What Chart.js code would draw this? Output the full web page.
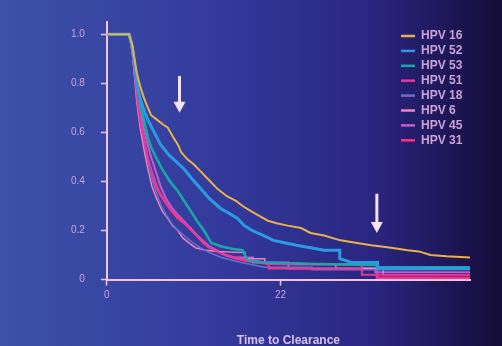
<!DOCTYPE html>
<html>
<head>
<meta charset="utf-8">
<script src="https://cdn.jsdelivr.net/npm/chart.js@4.4.1/dist/chart.umd.min.js"></script>
<style>
  html, body { margin: 0; padding: 0; background: #2b3290; }
  #wrap { width: 502px; height: 346px; position: relative; }
</style>
</head>
<body>
<div id="wrap"><canvas id="km_chart" width="502" height="346"></canvas></div>
<script>
// survival curves (time, fraction not cleared)
var labels = ['HPV 16', 'HPV 52', 'HPV 53', 'HPV 51', 'HPV 18', 'HPV 6', 'HPV 45', 'HPV 31'];

var hpv16T = [0, 2.8, 3.2, 3.5, 3.8, 4.2, 4.7, 5.2, 5.6, 6.4, 7.2, 7.7, 8.4, 9.0, 9.4, 10.2, 11.0, 11.9, 12.8, 14.0, 15.2, 16.4, 17.2, 18.2, 19.3, 20.4, 21.5, 22.9, 24.6, 25.8, 27.5, 29.6, 31.5, 33.5, 36.0, 38.1, 39.5, 41.0, 43.0, 46.0];
var hpv16S = [1, 1, 0.96, 0.90, 0.84, 0.79, 0.74, 0.70, 0.67, 0.65, 0.63, 0.62, 0.58, 0.55, 0.52, 0.49, 0.47, 0.44, 0.41, 0.37, 0.34, 0.32, 0.30, 0.28, 0.26, 0.24, 0.23, 0.22, 0.21, 0.19, 0.18, 0.16, 0.15, 0.14, 0.13, 0.12, 0.115, 0.10, 0.095, 0.09];

var hpv52T = [0, 2.8, 3.2, 3.5, 3.8, 4.2, 4.7, 5.2, 6.0, 6.8, 7.8, 8.8, 9.8, 10.8, 11.9, 13.0, 14.4, 15.5, 16.5, 17.4, 18.4, 19.8, 21.1, 22.5, 24.0, 25.8, 27.5, 29.5, 29.5, 31.0, 34.3, 34.3, 46.0];
var hpv52S = [1, 1, 0.95, 0.88, 0.80, 0.74, 0.69, 0.65, 0.60, 0.55, 0.51, 0.48, 0.45, 0.41, 0.37, 0.33, 0.29, 0.27, 0.25, 0.22, 0.20, 0.18, 0.16, 0.15, 0.14, 0.13, 0.12, 0.12, 0.085, 0.07, 0.07, 0.045, 0.045];

var hpv53T = [0, 2.8, 3.2, 3.5, 3.8, 4.2, 4.7, 5.2, 5.6, 6.2, 7.0, 8.0, 9.0, 9.8, 10.6, 11.4, 12.3, 13.2, 14.5, 16.0, 17.2, 17.8, 20.0, 25.0, 34.0, 34.5, 46.0];
var hpv53S = [1, 1, 0.95, 0.88, 0.80, 0.72, 0.65, 0.58, 0.54, 0.50, 0.45, 0.40, 0.36, 0.32, 0.28, 0.24, 0.20, 0.15, 0.135, 0.125, 0.12, 0.08, 0.07, 0.065, 0.06, 0.05, 0.05];

var hpv51T = [0, 2.9, 3.3, 3.6, 3.9, 4.3, 4.8, 5.3, 5.9, 6.6, 7.4, 8.3, 9.2, 10.1, 11.0, 12.0, 13.0, 14.2, 15.5, 17.0, 18.6, 20.5, 20.5, 32.3, 32.3, 46.0];
var hpv51S = [1, 1, 0.93, 0.82, 0.72, 0.63, 0.56, 0.48, 0.42, 0.36, 0.32, 0.28, 0.25, 0.22, 0.19, 0.16, 0.13, 0.11, 0.095, 0.085, 0.075, 0.065, 0.045, 0.045, 0.02, 0.02];

var hpv18T = [0, 2.9, 3.3, 3.7, 4.1, 4.6, 5.1, 5.6, 6.2, 6.9, 7.6, 8.4, 9.4, 10.5, 11.8, 13.0, 14.5, 17.0, 20.0, 26.0, 26.0, 46.0];
var hpv18S = [1, 1, 0.92, 0.80, 0.68, 0.58, 0.50, 0.42, 0.36, 0.30, 0.26, 0.22, 0.19, 0.16, 0.13, 0.11, 0.09, 0.07, 0.05, 0.05, 0.04, 0.04];

var hpv6T = [0, 2.8, 3.2, 3.5, 3.8, 4.2, 4.7, 5.2, 5.7, 6.3, 7.0, 7.7, 8.3, 9.0, 9.6, 10.4, 11.2, 12.5, 14.0, 17.5, 17.5, 20.0, 20.0, 26.0, 29.0, 29.0, 35.0, 35.0, 46.0];
var hpv6S = [1, 1, 0.93, 0.83, 0.72, 0.62, 0.53, 0.45, 0.38, 0.33, 0.28, 0.25, 0.22, 0.20, 0.17, 0.15, 0.13, 0.12, 0.115, 0.11, 0.085, 0.085, 0.07, 0.065, 0.065, 0.045, 0.045, 0.02, 0.02];

var hpv45T = [0, 2.9, 3.3, 3.7, 4.1, 4.5, 5.0, 5.6, 6.2, 6.8, 7.5, 8.3, 9.1, 10.0, 10.8, 11.8, 12.8, 13.8, 15.0, 16.2, 18.5, 18.5, 23.0, 23.0, 34.0, 34.0, 46.0];
var hpv45S = [1, 1, 0.94, 0.84, 0.73, 0.64, 0.57, 0.50, 0.44, 0.38, 0.33, 0.29, 0.26, 0.23, 0.20, 0.17, 0.14, 0.12, 0.10, 0.09, 0.09, 0.07, 0.07, 0.045, 0.045, 0.03, 0.03];

var hpv31T = [0, 2.8, 3.1, 3.4, 3.7, 4.0, 4.4, 4.9, 5.5, 6.0, 6.7, 7.5, 8.2, 9.0, 9.8, 10.6, 11.4, 12.2, 13.0, 13.8, 15.0, 16.5, 18.0, 20.5, 24.0, 32.3, 32.3, 34.2, 34.2, 46.0];
var hpv31S = [1, 1, 0.96, 0.88, 0.78, 0.69, 0.61, 0.53, 0.45, 0.39, 0.35, 0.31, 0.28, 0.25, 0.23, 0.21, 0.18, 0.15, 0.13, 0.12, 0.10, 0.085, 0.075, 0.065, 0.063, 0.063, 0.045, 0.045, 0.008, 0.008];

var seriesT = [hpv16T, hpv52T, hpv53T, hpv51T, hpv18T, hpv6T, hpv45T, hpv31T];
var seriesS = [hpv16S, hpv52S, hpv53S, hpv51S, hpv18S, hpv6S, hpv45S, hpv31S];
var colors = ['#e9b14a', '#2a9be0', '#17a9a9', '#e23a9a', '#6a70c8', '#f27fbf', '#c35ad0', '#ff2f86'];
var widths = [2, 3, 2.5, 2, 1.5, 1.5, 2, 2.5];

var yTickVals = [0, 0.2, 0.4, 0.6, 0.8, 1.0];
var xTickVals = [0, 22];

// arrows: time, start and tip in survival units
var arrowT = [9.2, 34.2];
var arrowFrom = [0.83, 0.35];
var arrowTo = [0.68, 0.19];

var axisColor = '#f2c4e6';
var textColor = '#c9a2d6';

var datasets = labels.map(function(lbl, i) {
  return {
    label: lbl,
    data: seriesT[i].map(function(t, j) { return { x: t, y: seriesS[i][j] }; }),
    borderColor: colors[i],
    borderWidth: widths[i],
    pointRadius: 0,
    tension: 0,
    fill: false
  };
});

var bgPlugin = {
  id: 'bg',
  beforeDraw: function(chart) {
    var ctx = chart.ctx;
    var g = ctx.createLinearGradient(0, 0, chart.width, 0);
    g.addColorStop(0, '#3c52a8');
    g.addColorStop(0.45, '#33399c');
    g.addColorStop(0.75, '#2a2580');
    g.addColorStop(1, '#140c38');
    ctx.save();
    ctx.fillStyle = g;
    ctx.fillRect(0, 0, chart.width, chart.height);
    ctx.restore();
  }
};

var arrowPlugin = {
  id: 'arrows',
  afterDatasetsDraw: function(chart) {
    var ctx = chart.ctx;
    var xs = chart.scales.x, ys = chart.scales.y;
    ctx.save();
    ctx.fillStyle = '#f6e2f2';
    ctx.strokeStyle = '#f6e2f2';
    arrowT.forEach(function(t, i) {
      var x = xs.getPixelForValue(t);
      var y0 = ys.getPixelForValue(arrowFrom[i]);
      var y1 = ys.getPixelForValue(arrowTo[i]);
      ctx.lineWidth = 3;
      ctx.beginPath();
      ctx.moveTo(x, y0);
      ctx.lineTo(x, y1 - 9);
      ctx.stroke();
      ctx.beginPath();
      ctx.moveTo(x - 6, y1 - 11);
      ctx.lineTo(x + 6, y1 - 11);
      ctx.lineTo(x, y1);
      ctx.closePath();
      ctx.fill();
    });
    ctx.restore();
  }
};

var legendPlugin = {
  id: 'boxLegend',
  afterDraw: function(chart) {
    var ctx = chart.ctx;
    var area = chart.chartArea;
    var x0 = area.right - 69;
    var y0 = area.top + 14;
    ctx.save();
    ctx.font = 'bold 12px "Liberation Sans", Arial, sans-serif';
    ctx.textBaseline = 'middle';
    chart.data.datasets.forEach(function(ds, i) {
      var y = y0 + i * 14.9;
      ctx.strokeStyle = ds.borderColor;
      ctx.lineWidth = 2.5;
      ctx.beginPath();
      ctx.moveTo(x0, y);
      ctx.lineTo(x0 + 14, y);
      ctx.stroke();
      ctx.fillStyle = textColor;
      ctx.fillText(ds.label, x0 + 20, y);
    });
    ctx.restore();
  }
};

var ctx = document.getElementById('km_chart').getContext('2d');
var chart = new Chart(ctx, {
  type: 'line',
  data: { datasets: datasets },
  plugins: [bgPlugin, arrowPlugin, legendPlugin],
  options: {
    responsive: false,
    animation: false,
    layout: { padding: { left: 55, right: 32, top: 11, bottom: -2 } },
    plugins: { legend: { display: false }, tooltip: { enabled: false } },
    scales: {
      x: {
        type: 'linear',
        min: 0,
        max: 46,
        afterBuildTicks: function(axis) { axis.ticks = xTickVals.map(function(v) { return { value: v }; }); },
        border: { display: true, color: axisColor, width: 2 },
        grid: { drawOnChartArea: false, drawTicks: true, tickLength: 6, tickColor: axisColor, tickWidth: 1.5 },
        ticks: { color: textColor, padding: 4, maxRotation: 0, font: { size: 10, family: '"Liberation Sans", Arial, sans-serif' } },
        title: {
          display: true,
          text: 'Time to Clearance',
          color: '#d9c2ea',
          padding: { top: 28, bottom: 0 },
          font: { size: 12, weight: 'bold', family: '"Liberation Sans", Arial, sans-serif' }
        }
      },
      y: {
        type: 'linear',
        min: 0,
        max: 1.05,
        afterBuildTicks: function(axis) { axis.ticks = yTickVals.map(function(v) { return { value: v }; }); },
        border: { display: true, color: axisColor, width: 2 },
        grid: { drawOnChartArea: false, drawTicks: true, tickLength: 6, tickColor: axisColor, tickWidth: 1.5 },
        ticks: {
          color: textColor,
          padding: 16,
          font: { size: 10, family: '"Liberation Sans", Arial, sans-serif' },
          callback: function(v) { return v === 0 ? '0' : v.toFixed(1); }
        }
      }
    }
  }
});
</script>
</body>
</html>
